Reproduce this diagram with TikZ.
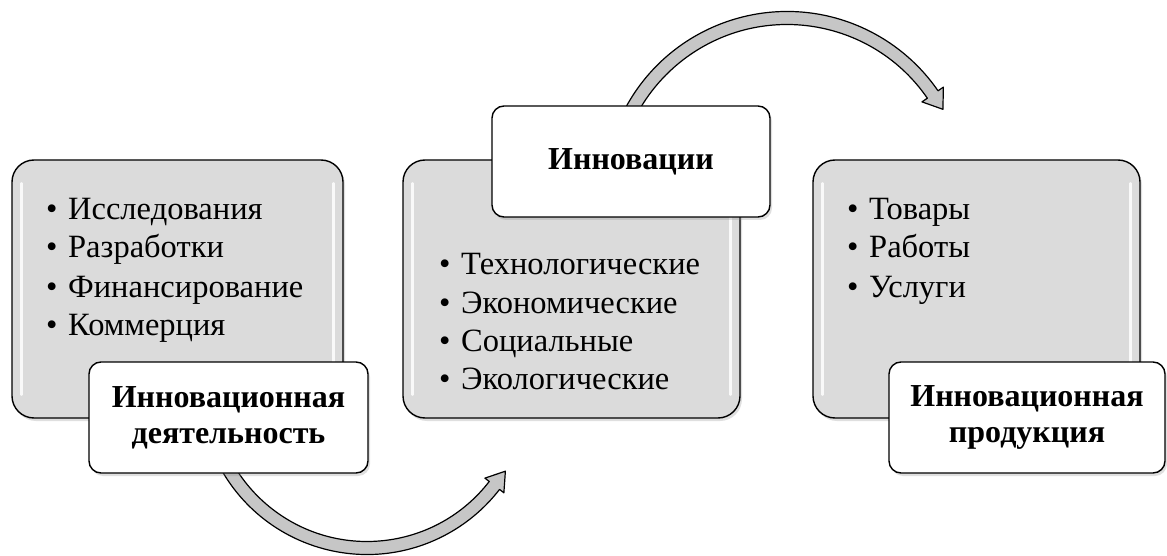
\documentclass[tikz,border=0pt]{standalone}
\usepackage{fontspec}
\setmainfont{Liberation Serif}
\usetikzlibrary{shadows,calc}
\begin{document}
\begin{tikzpicture}[x=1pt,y=1pt,
  greybox/.style={draw=black, line width=1.4pt, fill=gray!28, rounded corners=22pt, inner sep=0pt,
    drop shadow={opacity=0.25, shadow xshift=2pt, shadow yshift=-3pt}},
  labelbox/.style={draw=black, line width=1.4pt, fill=white, rounded corners=12pt, align=center,
    inner sep=0pt, font=\fontsize{32}{36}\selectfont\bfseries,
    drop shadow={opacity=0.25, shadow xshift=2pt, shadow yshift=-3pt}},
  item/.style={anchor=base west, inner sep=0pt, font=\fontsize{32.5}{38}\selectfont},
  arrowband/.style={draw=black, line width=1.2pt, fill=gray!45, line join=round},
  gloss/.style={draw=white, line width=2.5pt, line cap=round, opacity=0.85}
]
\useasboundingbox (0,0) rectangle (1167,555);

% curved arrows
\coordinate (c1) at (367,168);
\coordinate (c2) at (787,360);
\draw[arrowband] ($(c1)+(207:167.5)$) arc[start angle=207, end angle=322.3, radius=167.5]
  -- ($(c1)+(322.3:173)$) -- ($(c1)+(322.3:161)+(52.3:18)$) -- ($(c1)+(322.3:149)$)
  -- ($(c1)+(322.3:154.5)$) arc[start angle=322.3, end angle=207, radius=154.5] -- cycle;
\draw[arrowband] ($(c2)+(153:183.5)$) arc[start angle=153, end angle=34.6, radius=183.5]
  -- ($(c2)+(34.6:190)$) -- ($(c2)+(34.6:177)+(-55.4:18)$) -- ($(c2)+(34.6:164)$)
  -- ($(c2)+(34.6:170.5)$) arc[start angle=34.6, end angle=153, radius=170.5] -- cycle;

% grey boxes
\node[greybox, minimum width=331pt, minimum height=258pt] (b1) at (177.5,266) {};
\node[greybox, minimum width=337pt, minimum height=258pt] (b2) at (571.5,266) {};
\node[greybox, minimum width=327pt, minimum height=258pt] (b3) at (976.5,266) {};
\foreach \b in {b1,b2,b3}{
  \draw[gloss] ($(\b.north west)+(10,-24)$) -- ($(\b.south west)+(10,24)$);
  \draw[gloss] ($(\b.north east)+(-10,-24)$) -- ($(\b.south east)+(-10,24)$);
}

% items
\node[item] (i11) at (46,335) {\makebox[22pt][l]{•}Исследования};
\node[item] (i12) at (46,297) {\makebox[22pt][l]{•}Разработки};
\node[item] (i13) at (46,258) {\makebox[22pt][l]{•}Финансирование};
\node[item] (i14) at (46,220) {\makebox[22pt][l]{•}Коммерция};

\node[item] (i21) at (439,280) {\makebox[22pt][l]{•}Технологические};
\node[item] (i22) at (439,242) {\makebox[22pt][l]{•}Экономические};
\node[item] (i23) at (439,204) {\makebox[22pt][l]{•}Социальные};
\node[item] (i24) at (439,166) {\makebox[22pt][l]{•}Экологические};

\node[item] (i31) at (847,335) {\makebox[22pt][l]{•}Товары};
\node[item] (i32) at (847,297) {\makebox[22pt][l]{•}Работы};
\node[item] (i33) at (847,258) {\makebox[22pt][l]{•}Услуги};

% label boxes
\node[labelbox, minimum width=279pt, minimum height=111pt] (l1) at (228.5,137.5) {Инновационная\\деятельность};
\node[labelbox, minimum width=278pt, minimum height=111pt] (l2) at (631,393.5) {Инновации};
\node[labelbox, minimum width=276pt, minimum height=111pt] (l3) at (1027,137.5) {Инновационная\\продукция};
\end{tikzpicture}
\end{document}
